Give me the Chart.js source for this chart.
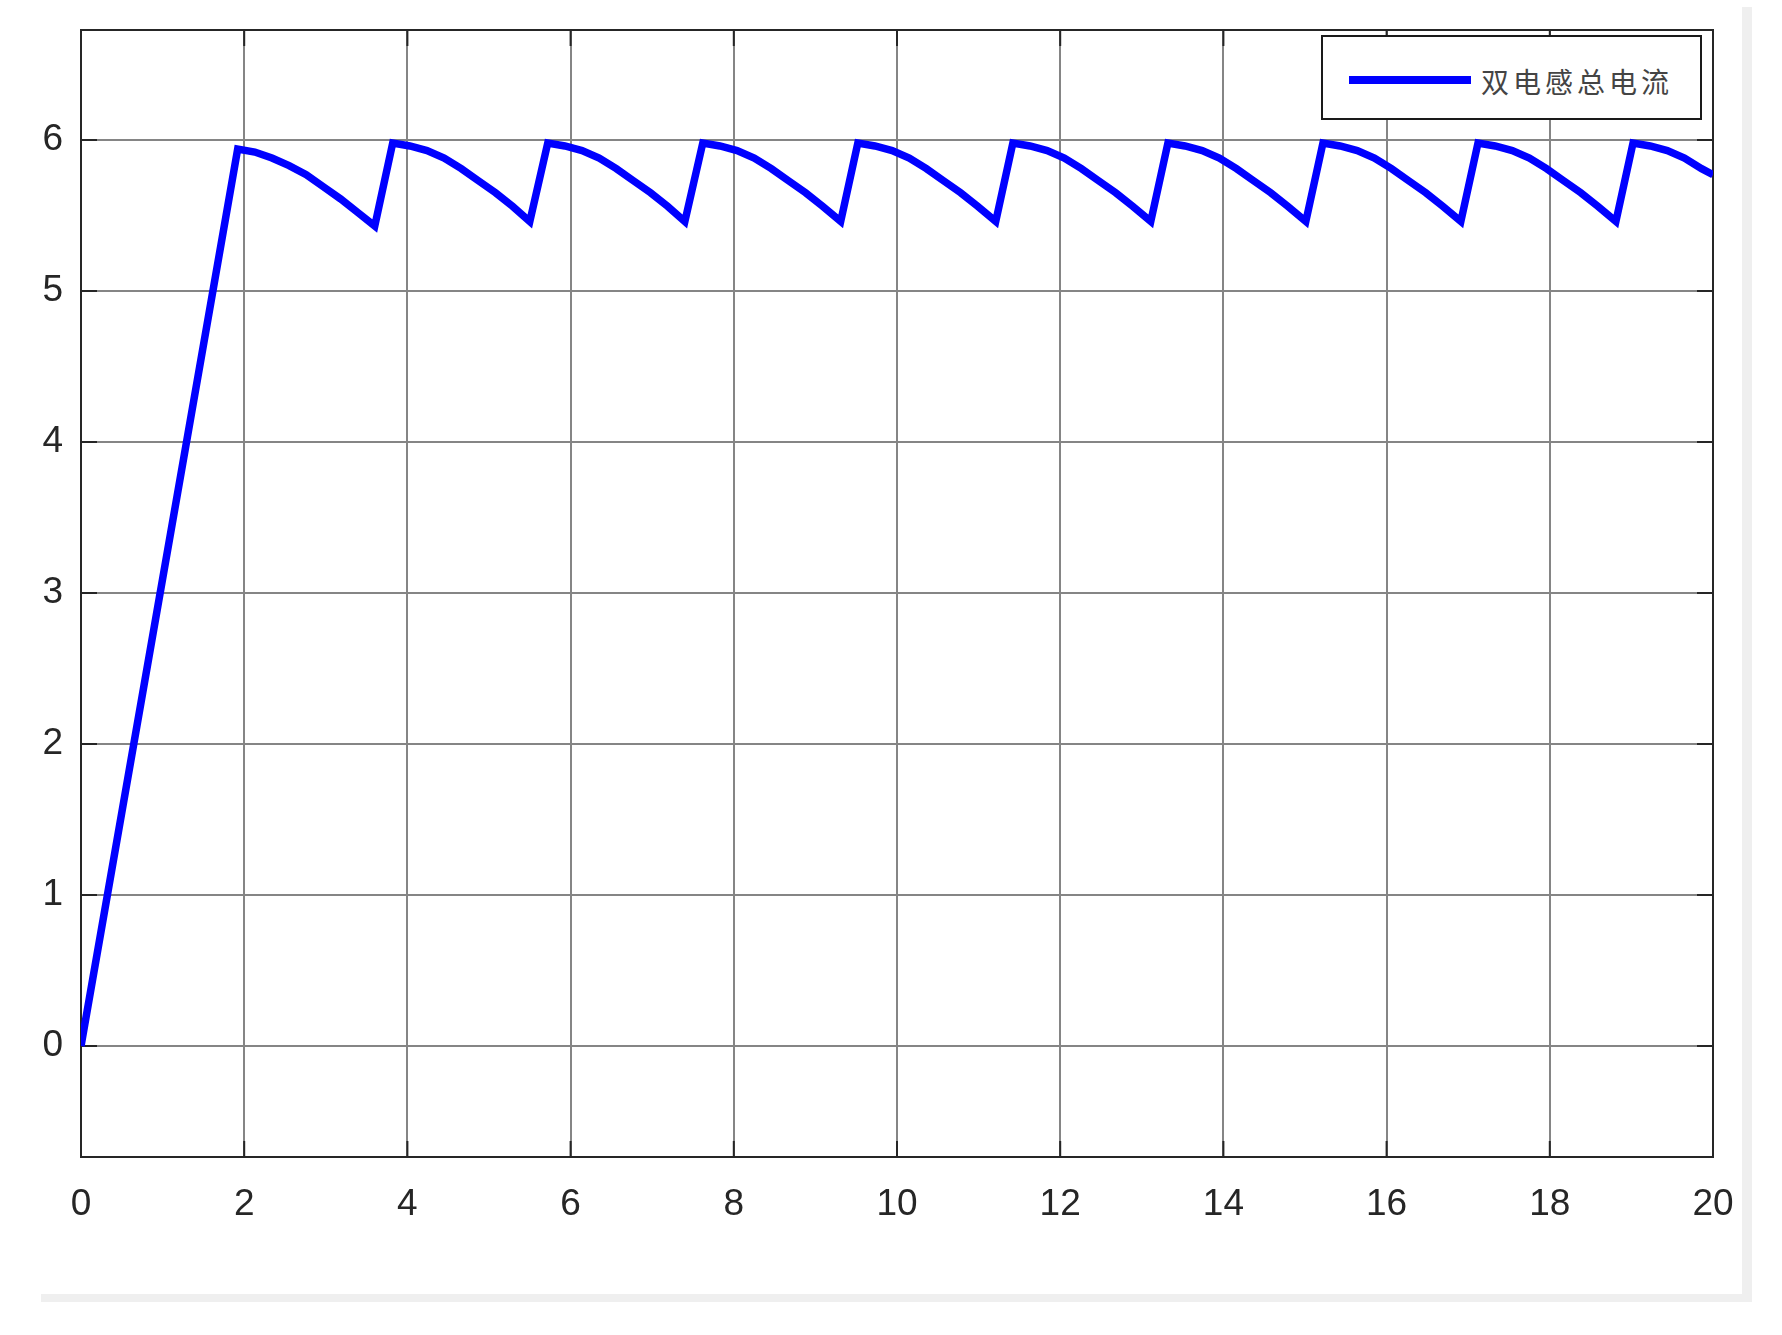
<!DOCTYPE html>
<html>
<head>
<meta charset="utf-8">
<title>双电感总电流</title>
<script src="https://cdn.jsdelivr.net/npm/chart.js@4.4.0/dist/chart.umd.min.js"></script>
<style>
  html, body { margin: 0; padding: 0; background: #fff; }
  #wrap { position: relative; width: 1782px; height: 1335px; overflow: hidden; background: #fff; }
  #plot { position: absolute; left: 0; top: 0; }
  .edge { position: absolute; background: #efefef; }
  #edgeRight { left: 1742px; top: 7px; width: 10px; height: 1295px; }
  #edgeBottom { left: 41px; top: 1294px; width: 1711px; height: 8px; }
  #legend {
    position: absolute; left: 1321px; top: 35px; width: 381px; height: 85px;
    box-sizing: border-box; border: 2px solid #1a1a1a; background: #fff;
  }
  #legend .swatch { position: absolute; left: 26px; top: 39px; width: 122px; height: 8px; background: #0000ff; }
  #legend .label {
    position: absolute; left: 158px; top: 44px; transform: translateY(-50%);
    font: 28px "Noto Sans CJK SC", sans-serif; color: #444; letter-spacing: 4px; line-height: 1;
  }
</style>
</head>
<body>
<div id="wrap">
  <canvas id="plot" width="1782" height="1335"></canvas>
  <div class="edge" id="edgeRight"></div>
  <div class="edge" id="edgeBottom"></div>
  <div id="legend"><span class="swatch"></span><span class="label">双电感总电流</span></div>
</div>
<script>
const timeS = [
  0,
  1.92, 2.13, 2.34, 2.55, 2.76, 2.97, 3.18, 3.39, 3.60,
  3.82, 4.03, 4.24, 4.45, 4.66, 4.87, 5.08, 5.29, 5.50,
  5.72, 5.93, 6.14, 6.35, 6.56, 6.77, 6.98, 7.19, 7.40,
  7.62, 7.83, 8.04, 8.25, 8.46, 8.67, 8.88, 9.09, 9.31,
  9.52, 9.73, 9.94, 10.15, 10.36, 10.57, 10.78, 10.99, 11.21,
  11.42, 11.63, 11.84, 12.05, 12.26, 12.47, 12.68, 12.89, 13.11,
  13.32, 13.53, 13.74, 13.95, 14.16, 14.37, 14.58, 14.79, 15.01,
  15.22, 15.43, 15.64, 15.85, 16.06, 16.27, 16.48, 16.69, 16.91,
  17.12, 17.33, 17.54, 17.75, 17.96, 18.17, 18.38, 18.59, 18.81,
  19.02, 19.23, 19.44, 19.65, 19.86, 20.00,
];
const currentA = [
  0,
  5.94, 5.92, 5.88, 5.83, 5.77, 5.69, 5.61, 5.52, 5.43,
  5.98, 5.96, 5.93, 5.88, 5.81, 5.73, 5.65, 5.56, 5.46,
  5.98, 5.96, 5.93, 5.88, 5.81, 5.73, 5.65, 5.56, 5.46,
  5.98, 5.96, 5.93, 5.88, 5.81, 5.73, 5.65, 5.56, 5.46,
  5.98, 5.96, 5.93, 5.88, 5.81, 5.73, 5.65, 5.56, 5.46,
  5.98, 5.96, 5.93, 5.88, 5.81, 5.73, 5.65, 5.56, 5.46,
  5.98, 5.96, 5.93, 5.88, 5.81, 5.73, 5.65, 5.56, 5.46,
  5.98, 5.96, 5.93, 5.88, 5.81, 5.73, 5.65, 5.56, 5.46,
  5.98, 5.96, 5.93, 5.88, 5.81, 5.73, 5.65, 5.56, 5.46,
  5.98, 5.96, 5.93, 5.88, 5.81, 5.77,
];
const xTicks = [0, 2, 4, 6, 8, 10, 12, 14, 16, 18, 20];
const yTicks = [0, 1, 2, 3, 4, 5, 6];
const X_MIN = 0, X_MAX = 20;
const Y_MIN = -0.735, Y_MAX = 6.728;

const AXIS_COLOR = '#262626';
const GRID_COLOR = '#858585';
const TICK_LEN = 16;
const FONT = { family: "'Liberation Sans', Arial, sans-serif", size: 37 };

// MATLAB style box with inward tick marks on all four sides
const matlabFrame = {
  id: 'matlabFrame',
  beforeDatasetsDraw(chart) {
    const { ctx, chartArea: a, scales: { x, y } } = chart;
    ctx.save();
    ctx.strokeStyle = AXIS_COLOR;
    ctx.lineWidth = 2;
    ctx.beginPath();
    xTicks.forEach(v => {
      const px = x.getPixelForValue(v);
      ctx.moveTo(px, a.bottom); ctx.lineTo(px, a.bottom - TICK_LEN);
      ctx.moveTo(px, a.top); ctx.lineTo(px, a.top + TICK_LEN);
    });
    yTicks.forEach(v => {
      const py = y.getPixelForValue(v);
      ctx.moveTo(a.left, py); ctx.lineTo(a.left + TICK_LEN, py);
      ctx.moveTo(a.right, py); ctx.lineTo(a.right - TICK_LEN, py);
    });
    ctx.stroke();
    ctx.strokeRect(a.left, a.top, a.right - a.left, a.bottom - a.top);
    ctx.restore();
  },
};

new Chart(document.getElementById('plot').getContext('2d'), {
  type: 'line',
  data: {
    datasets: [{
      label: '双电感总电流',
      data: timeS.map((t, i) => ({ x: t, y: currentA[i] })),
      borderColor: '#0000ff',
      borderWidth: 7.5,
      pointRadius: 0,
      tension: 0,
      fill: false,
      borderJoinStyle: 'miter',
    }],
  },
  options: {
    responsive: false,
    animation: false,
    layout: { padding: { left: 0, top: 30, right: 69, bottom: 0 } },
    plugins: { legend: { display: false }, tooltip: { enabled: false } },
    scales: {
      x: {
        type: 'linear',
        min: X_MIN,
        max: X_MAX,
        afterBuildTicks: s => { s.ticks = xTicks.map(v => ({ value: v })); },
        afterFit: s => { s.height = 178; s.paddingLeft = 0; s.paddingRight = 0; },
        ticks: { color: AXIS_COLOR, font: FONT, padding: 26, maxRotation: 0 },
        grid: { color: GRID_COLOR, lineWidth: 2, drawTicks: false },
        border: { display: false },
      },
      y: {
        min: Y_MIN,
        max: Y_MAX,
        afterBuildTicks: s => { s.ticks = yTicks.map(v => ({ value: v })); },
        afterFit: s => { s.width = 81; s.paddingTop = 0; s.paddingBottom = 0; },
        ticks: { color: AXIS_COLOR, font: FONT, padding: 18 },
        grid: { color: GRID_COLOR, lineWidth: 2, drawTicks: false },
        border: { display: false },
      },
    },
  },
  plugins: [matlabFrame],
});
</script>
</body>
</html>
